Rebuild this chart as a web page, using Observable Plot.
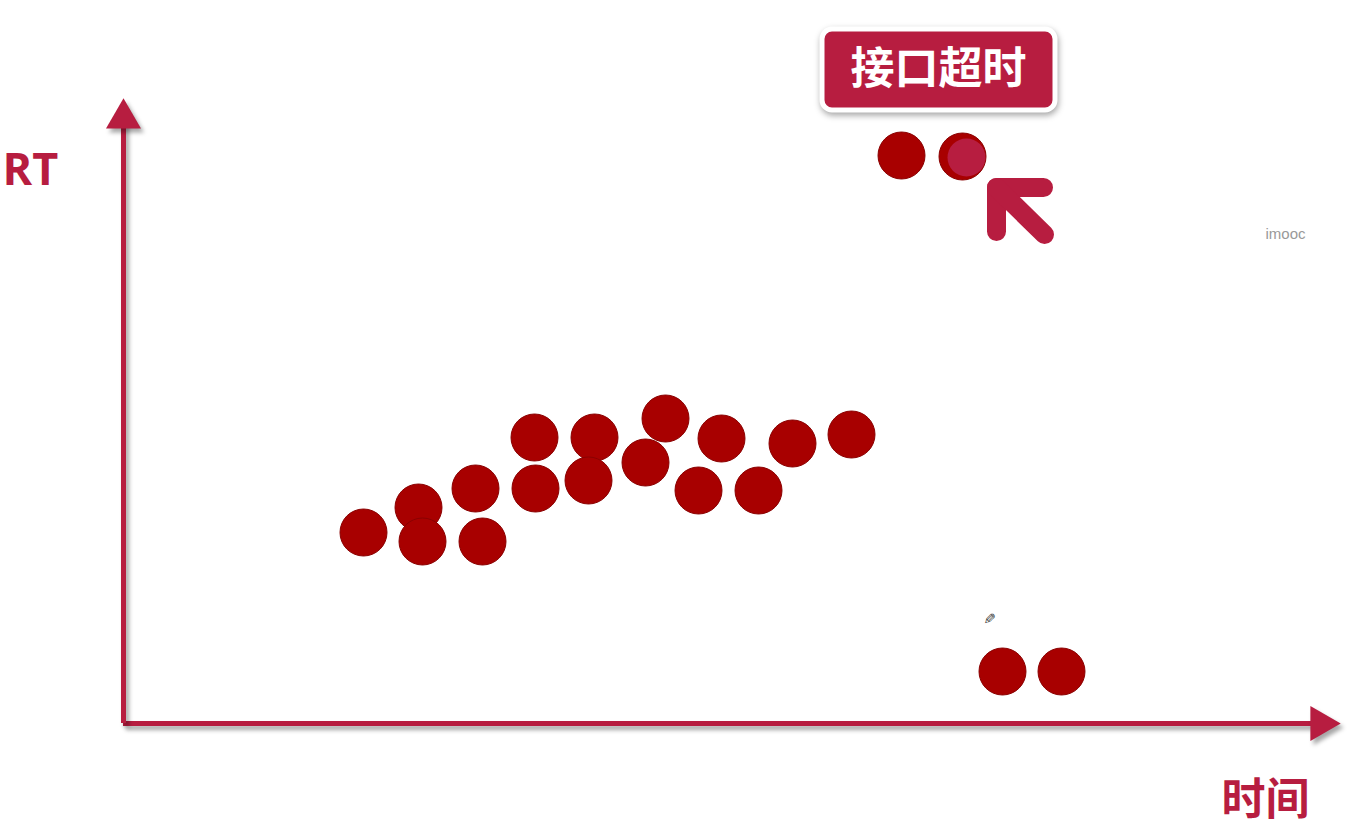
<!DOCTYPE html>
<html>
<head>
<meta charset="utf-8">
<script src="https://cdn.jsdelivr.net/npm/d3@7"></script>
<script src="https://cdn.jsdelivr.net/npm/@observablehq/plot@0.6"></script>
<style>
  html, body { margin: 0; padding: 0; background: #fff; }
  #chart svg { display: block; }
  .shadow { filter: drop-shadow(3px 4px 2px rgba(0,0,0,0.35)); }
  .boxshadow { filter: drop-shadow(1px 3px 3px rgba(0,0,0,0.35)); }
</style>
</head>
<body>
<div id="chart"></div>
<script>
// Normal requests: time vs response time (arbitrary units)
const normalTime = [240, 295, 299, 352, 359, 411, 412, 471, 465, 542, 522, 598, 575, 635, 669, 728, 879, 938];
const normalRT   = [191, 216, 182, 235, 182, 286, 235, 286, 243, 305, 261, 285, 233, 233, 280, 289,  52,  52];
// Timed-out requests
const timeoutTime = [778, 839];
const timeoutRT   = [568, 567];
const highlightTime = [843];
const highlightRT = [566];

// Axis extents
const xAxisEnd = 1190;
const yAxisEnd = 603;

// Labels
const labelTitle = "接口超时";
const labelPos = {x: 815, y: 654};
const labelBox = {x1: 699, x2: 932, y1: 613, y2: 694};
const yLabel = "RT", yLabelPos = {x: -93, y: 553};
const xLabel = "时间", xLabelPos = {x: 1142, y: -77};
const watermark = "imooc", watermarkPos = {x: 1162, y: 489};
const pointerChevron = [{x: 873, y: 492}, {x: 873, y: 536}, {x: 920, y: 536}];
const pointerShaft = [{x: 873, y: 536}, {x: 921, y: 489}];
const pencilPos = {x: 865, y: 105};

const crimson = "#b71d40";
const dotRed = "#a80000";

const normal = normalTime.map((t, i) => ({t, rt: normalRT[i]}));
const timeout = timeoutTime.map((t, i) => ({t, rt: timeoutRT[i]}));
const highlight = highlightTime.map((t, i) => ({t, rt: highlightRT[i]}));

const chart = Plot.plot({
  width: 1356,
  height: 839,
  margin: 0,
  x: {domain: [0, 1217], range: [123, 1340], axis: null},
  y: {domain: [0, 626], range: [723, 97], axis: null},
  style: {background: "#fff", overflow: "visible"},
  marks: [
    // axes
    Plot.ruleY([0], {x1: 0, x2: xAxisEnd, stroke: crimson, strokeWidth: 5, className: "shadow"}),
    Plot.ruleX([0], {y1: 0, y2: yAxisEnd, stroke: crimson, strokeWidth: 5, className: "shadow"}),
    Plot.dot([{t: 0, rt: yAxisEnd + 2}], {x: "t", y: "rt", symbol: "triangle", r: 13, fill: crimson, className: "shadow"}),
    Plot.dot([{t: xAxisEnd + 7, rt: 0}], {x: "t", y: "rt", symbol: "triangle", r: 13, rotate: 90, fill: crimson, className: "shadow"}),
    // points
    Plot.dot(normal, {x: "t", y: "rt", r: 23.5, fill: dotRed, stroke: "#8a0000", strokeWidth: 1}),
    Plot.dot(timeout, {x: "t", y: "rt", r: 23.5, fill: dotRed, stroke: "#8a0000", strokeWidth: 1}),
    Plot.dot(highlight, {x: "t", y: "rt", r: 19, fill: crimson}),
    // pointer arrow
    Plot.line(pointerChevron, {x: "x", y: "y", stroke: crimson, strokeWidth: 19, strokeLinecap: "round", strokeLinejoin: "round"}),
    Plot.line(pointerShaft, {x: "x", y: "y", stroke: crimson, strokeWidth: 19, strokeLinecap: "round"}),
    // label box
    Plot.rect([labelBox], {x1: "x1", x2: "x2", y1: "y1", y2: "y2", fill: crimson, stroke: "#fff", strokeWidth: 5, rx: 10, className: "boxshadow"}),
    Plot.text([labelPos], {x: "x", y: "y", text: [labelTitle], fill: "#fff", fontSize: 44, fontWeight: "bold", fontFamily: "Noto Sans CJK SC"}),
    // axis labels
    Plot.text([yLabelPos], {x: "x", y: "y", text: [yLabel], fill: crimson, fontSize: 45, fontWeight: "bold", fontFamily: "Open Sans"}),
    Plot.text([xLabelPos], {x: "x", y: "y", text: [xLabel], fill: crimson, fontSize: 44, fontWeight: "bold", fontFamily: "Noto Sans CJK SC"}),
    // watermark & cursor
    Plot.text([watermarkPos], {x: "x", y: "y", text: [watermark], fill: "#999", fontSize: 15, fontFamily: "Liberation Sans"}),
    Plot.text([pencilPos], {x: "x", y: "y", text: ["\u270E\uFE0E"], fill: "#444", fontSize: 15, fontFamily: "DejaVu Sans", rotate: 90})
  ]
});
document.getElementById("chart").appendChild(chart);
</script>
</body>
</html>
